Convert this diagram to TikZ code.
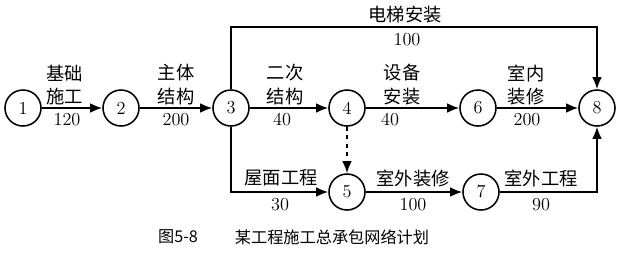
\documentclass[tikz,border=0pt]{standalone}
\usepackage{fontspec}
\newfontfamily\cjk{Noto Sans CJK SC}
\usetikzlibrary{arrows.meta}

\begin{document}
\begin{tikzpicture}[x=0.025cm,y=-0.025cm,
  evt/.style={circle,draw,line width=1.1pt,minimum size=0.9cm,inner sep=0pt,font=\fontsize{13}{15}\selectfont},
  arr/.style={-{Latex[length=3mm,width=2.4mm]},line width=1.2pt},
  lbl/.style={font={\cjk\fontsize{13}{17}\selectfont},align=center,inner sep=0pt},
  num/.style={font=\fontsize{13}{15}\selectfont,inner sep=0pt}]
\useasboundingbox (0,0) rectangle (620,253);
% events
\node[evt] (n1) at (23,108) {1};
\node[evt] (n2) at (121,108) {2};
\node[evt] (n3) at (231,108) {3};
\node[evt] (n4) at (347,108) {4};
\node[evt] (n6) at (478,108) {6};
\node[evt] (n8) at (597,108) {8};
\node[evt] (n5) at (347,192) {5};
\node[evt] (n7) at (481,192) {7};
\coordinate (tl) at (231,27);
\coordinate (tr) at (597,27);
\coordinate (bl) at (231,192);
\coordinate (br) at (597,192);
% activities
\foreach \x/\y in {n1/n2,n2/n3,n3/n4,n4/n6,n6/n8,n5/n7} \draw[arr] (\x)--(\y);
\draw[arr] (n3)--(tl)--(tr)--(n8);
\draw[arr] (n3)--(bl)--(n5);
\draw[arr] (n7)--(br)--(n8);
\draw[arr,dashed] (n4)--(n5);
% labels
\node[lbl] (a12) at (65,85) {基础\\施工};
\node[num] (d12) at (67,120) {120};
\node[lbl] (a23) at (176,85) {主体\\结构};
\node[num] (d23) at (176,120) {200};
\node[lbl] (a34) at (285,85) {二次\\结构};
\node[num] (d34) at (282,120) {40};
\node[lbl] (a46) at (402,85) {设备\\安装};
\node[num] (d46) at (390,120) {40};
\node[lbl] (a68) at (526,85) {室内\\装修};
\node[num] (d68) at (527,120) {200};
\node[lbl] (a38) at (405,15) {电梯安装};
\node[num] (d38) at (407,40) {100};
\node[lbl] (a35) at (281,178) {屋面工程};
\node[num] (d35) at (280,205) {30};
\node[lbl] (a57) at (413,178) {室外装修};
\node[num] (d57) at (413,205) {100};
\node[lbl] (a78) at (541,178) {室外工程};
\node[num] (d78) at (541,205) {90};
% caption
\node[font={\cjk\fontsize{11.5}{14}\selectfont},inner sep=0pt] (fig) at (178,237) {图5-8};
\node[font={\cjk\fontsize{11.5}{14}\selectfont},inner sep=0pt] (cap) at (332,237) {某工程施工总承包网络计划};
\end{tikzpicture}
\end{document}
